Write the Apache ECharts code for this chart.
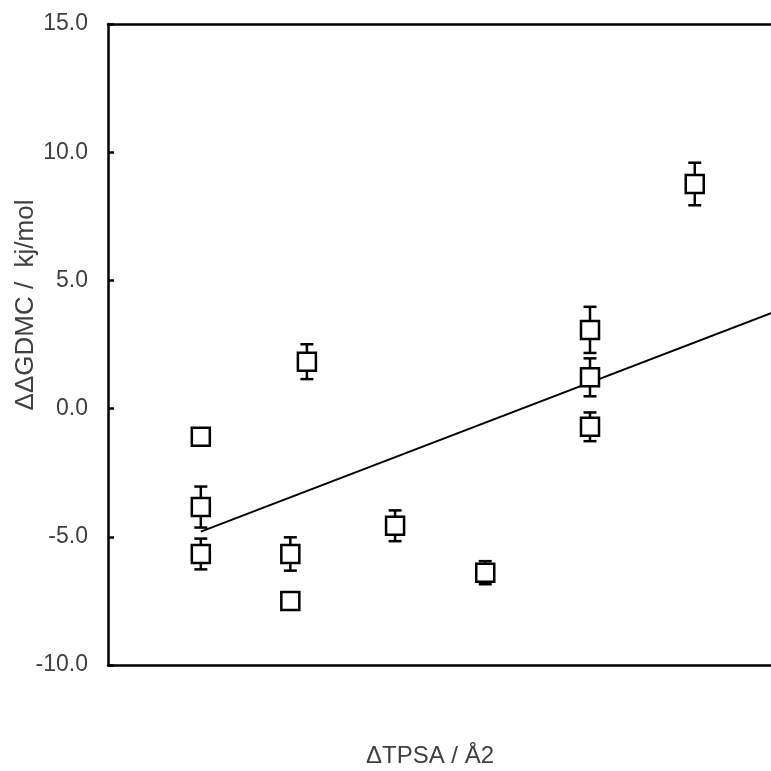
<!DOCTYPE html>
<html>
<head>
<meta charset="utf-8">
<script src="https://cdn.jsdelivr.net/npm/echarts@6/dist/echarts.min.js"></script>
<style>
  html, body { margin: 0; padding: 0; background: #fff; }
  #chart { width: 771px; height: 771px; }
</style>
</head>
<body>
<div id="chart"></div>
<script>
// Measured points: ΔTPSA position, ΔΔG value and symmetric error (0 = no bar)
const xValues = [14.0, 14.0, 14.0, 27.5, 27.5, 30.0, 43.3, 56.9, 72.7, 72.7, 72.7, 88.5];
const yValues = [-1.10, -3.84, -5.67, -5.67, -7.50, 1.83, -4.57, -6.40, 3.07, 1.22, -0.71, 8.76];
const yErrors = [0, 0.80, 0.60, 0.65, 0, 0.68, 0.60, 0.45, 0.90, 0.74, 0.56, 0.83];

// Linear fit endpoints
const fitX = [14.0, 100];
const fitY = [-4.80, 3.72];

// Axis settings
const yTicks = [-10, -5, 0, 5, 10, 15];
const xTitle = 'ΔTPSA / Å2';
const yTitle = 'ΔΔGDMC /  kj/mol';

const FONT = '"Liberation Sans", Arial, sans-serif';

const points = xValues.map((x, i) => [x, yValues[i]]);
const errData = xValues.map((x, i) => [x, yValues[i], yErrors[i]]);
const fitData = fitX.map((x, i) => [x, fitY[i]]);

const chart = echarts.init(document.getElementById('chart'), null, { renderer: 'canvas' });

const frameLine = { show: true, onZero: false, lineStyle: { color: '#000', width: 2.5 } };

chart.setOption({
  backgroundColor: '#ffffff',
  animation: false,
  grid: { left: 108, top: 24, bottom: 106, right: 0 },
  xAxis: [
    {
      type: 'value', min: 0, max: 100, position: 'bottom',
      axisLine: frameLine,
      axisTick: { show: false },
      axisLabel: { show: false },
      splitLine: { show: false }
    },
    {
      // top frame edge
      type: 'value', min: 0, max: 100, position: 'top',
      axisLine: frameLine,
      axisTick: { show: false },
      axisLabel: { show: false },
      splitLine: { show: false }
    }
  ],
  yAxis: {
    type: 'value',
    min: yTicks[0], max: yTicks[yTicks.length - 1], interval: 5,
    axisLine: frameLine,
    axisTick: { show: true, inside: true, length: 6, lineStyle: { color: '#000', width: 2.5 } },
    axisLabel: {
      margin: 20, color: '#404040', fontSize: 23, fontFamily: FONT,
      padding: [6, 0, 0, 0],
      formatter: v => v.toFixed(1)
    },
    splitLine: { show: false }
  },
  graphic: [
    {
      type: 'text', x: 430, y: 756,
      style: { text: xTitle, fill: '#404040', font: '24px ' + FONT, align: 'center', verticalAlign: 'middle' }
    },
    {
      type: 'text', x: 26, y: 305, rotation: Math.PI / 2,
      style: { text: yTitle, fill: '#404040', font: '26px ' + FONT, align: 'center', verticalAlign: 'middle' }
    }
  ],
  series: [
    {
      type: 'line',
      data: fitData,
      showSymbol: false,
      lineStyle: { color: '#000', width: 2 },
      z: 2
    },
    {
      type: 'custom',
      data: errData,
      z: 3,
      renderItem: function (params, api) {
        const err = api.value(2);
        if (!err) return null;
        const x = api.value(0), y = api.value(1);
        const hi = api.coord([x, y + err]);
        const lo = api.coord([x, y - err]);
        const half = 6.5;
        const style = { stroke: '#000', lineWidth: 2.5 };
        return {
          type: 'group',
          children: [
            { type: 'line', shape: { x1: hi[0], y1: hi[1], x2: lo[0], y2: lo[1] }, style: style },
            { type: 'line', shape: { x1: hi[0] - half, y1: hi[1], x2: hi[0] + half, y2: hi[1] }, style: style },
            { type: 'line', shape: { x1: lo[0] - half, y1: lo[1], x2: lo[0] + half, y2: lo[1] }, style: style }
          ]
        };
      }
    },
    {
      type: 'scatter',
      data: points,
      symbol: 'rect',
      symbolSize: 18,
      itemStyle: { color: '#fff', borderColor: '#000', borderWidth: 2.5, opacity: 1 },
      z: 4
    }
  ]
});
</script>
</body>
</html>
